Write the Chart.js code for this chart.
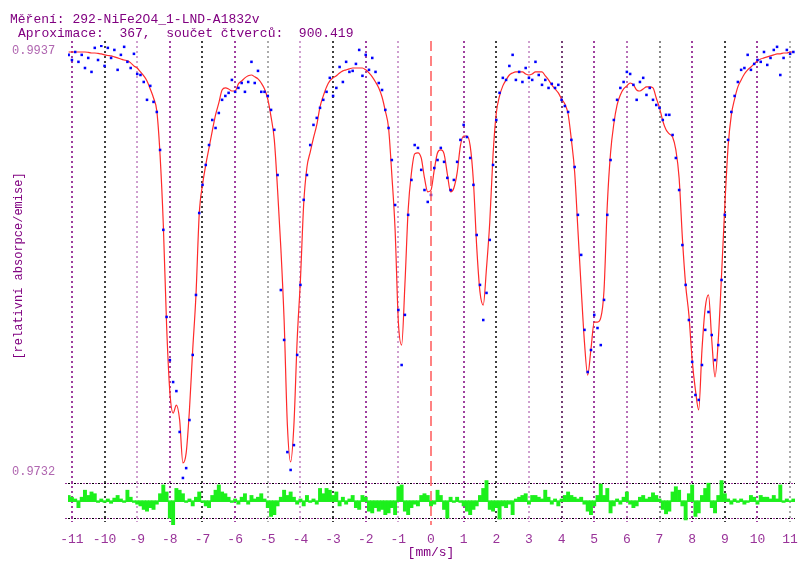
<!DOCTYPE html>
<html>
<head>
<meta charset="utf-8">
<script src="https://cdn.jsdelivr.net/npm/chart.js@4.4.1/dist/chart.umd.min.js"></script>
<style>
  html, body { margin: 0; padding: 0; background: #fff; }
  #wrap { width: 799px; height: 561px; }
</style>
</head>
<body>
<div id="wrap"><canvas id="spectrum" width="799" height="561"></canvas></div>
<script>
// channel velocity calibration (mm/s)
const V_START = -11.1;
const V_STEP = 0.1;

const TICKS = [-11, -10, -9, -8, -7, -6, -5, -4, -3, -2, -1, 0, 1, 2, 3, 4, 5, 6, 7, 8, 9, 10, 11];
const Y_LABELS = [0.9937, 0.9732];

const TITLE_1 = 'Měření: 292-NiFe2O4_1-LND-A1832v';
const TITLE_2 = 'Aproximace:  367,  součet čtverců:  900.419';

// fitted curve, one value per channel
const FIT = [
  0.99355,0.99355,0.99355,0.99355,0.99355,0.99355,0.99353,0.99350,0.99350,0.99348,
  0.99346,0.99341,0.99338,0.99336,0.99331,0.99326,0.99321,0.99316,0.99312,0.99302,
  0.99287,0.99277,0.99258,0.99239,0.99214,0.99175,0.99131,0.99068,0.98854,0.98513,
  0.98026,0.97700,0.97597,0.97636,0.97563,0.97354,0.97403,0.97612,0.97904,0.98172,
  0.98566,0.98708,0.98805,0.98888,0.98971,0.99049,0.99107,0.99170,0.99180,0.99175,
  0.99165,0.99165,0.99200,0.99214,0.99229,0.99239,0.99243,0.99234,0.99224,0.99204,
  0.99175,0.99126,0.99039,0.98927,0.98683,0.98401,0.98050,0.97539,0.97359,0.97539,
  0.97953,0.98245,0.98615,0.98795,0.98868,0.98937,0.99000,0.99088,0.99141,0.99185,
  0.99214,0.99229,0.99239,0.99253,0.99263,0.99268,0.99273,0.99277,0.99277,0.99277,
  0.99277,0.99268,0.99253,0.99234,0.99209,0.99180,0.99136,0.99068,0.98985,0.98756,
  0.98489,0.98040,0.97928,0.98221,0.98586,0.98766,0.98859,0.98864,0.98839,0.98742,
  0.98674,0.98683,0.98781,0.98864,0.98878,0.98859,0.98761,0.98674,0.98693,0.98766,
  0.98898,0.98946,0.98946,0.98898,0.98722,0.98406,0.98187,0.98123,0.98303,0.98527,
  0.98854,0.99058,0.99141,0.99190,0.99219,0.99243,0.99253,0.99258,0.99258,0.99258,
  0.99248,0.99243,0.99248,0.99258,0.99258,0.99258,0.99239,0.99219,0.99195,0.99175,
  0.99156,0.99126,0.99102,0.99053,0.98927,0.98771,0.98489,0.98206,0.97943,0.97782,
  0.97909,0.98040,0.98040,0.98060,0.98196,0.98610,0.98864,0.99005,0.99097,0.99146,
  0.99175,0.99190,0.99204,0.99195,0.99170,0.99165,0.99175,0.99185,0.99185,0.99180,
  0.99131,0.99083,0.99019,0.98976,0.98956,0.98941,0.98878,0.98742,0.98450,0.98221,
  0.98075,0.97855,0.97709,0.97612,0.97904,0.98109,0.98172,0.97953,0.97773,0.97953,
  0.98269,0.98605,0.98893,0.99049,0.99126,0.99185,0.99219,0.99248,0.99268,0.99282,
  0.99297,0.99312,0.99321,0.99326,0.99331,0.99336,0.99341,0.99346,0.99346,0.99350,
  0.99350,0.99355,0.99355
];

// measured spectrum
const MEASURED = [
  0.99341,0.99316,0.99355,0.99307,0.99341,0.99277,0.99326,0.99258,0.99375,0.99316,
  0.99385,0.99287,0.99375,0.99326,0.99365,0.99268,0.99341,0.99380,0.99307,0.99277,
  0.99346,0.99248,0.99243,0.99209,0.99122,0.99190,0.99112,0.99063,0.98878,0.98489,
  0.98065,0.97855,0.97748,0.97704,0.97505,0.97281,0.97329,0.97563,0.97880,0.98172,
  0.98571,0.98708,0.98805,0.98902,0.99024,0.98985,0.99058,0.99122,0.99141,0.99156,
  0.99219,0.99161,0.99180,0.99204,0.99161,0.99209,0.99307,0.99204,0.99263,0.99161,
  0.99161,0.99141,0.99073,0.98976,0.98756,0.98196,0.97953,0.97407,0.97320,0.97441,
  0.97880,0.98221,0.98635,0.98756,0.98902,0.99000,0.99034,0.99083,0.99122,0.99161,
  0.99229,0.99141,0.99180,0.99282,0.99209,0.99307,0.99258,0.99263,0.99297,0.99365,
  0.99239,0.99341,0.99268,0.99326,0.99258,0.99204,0.99170,0.99073,0.98985,0.98829,
  0.98610,0.98099,0.97831,0.98075,0.98562,0.98732,0.98902,0.98888,0.98781,0.98683,
  0.98625,0.98659,0.98790,0.98829,0.98888,0.98820,0.98742,0.98683,0.98732,0.98820,
  0.98927,0.99000,0.98941,0.98839,0.98708,0.98464,0.98221,0.98050,0.98182,0.98440,
  0.98805,0.99024,0.99156,0.99229,0.99219,0.99287,0.99341,0.99219,0.99258,0.99209,
  0.99277,0.99229,0.99219,0.99307,0.99243,0.99195,0.99219,0.99180,0.99200,0.99180,
  0.99195,0.99122,0.99092,0.99063,0.98927,0.98795,0.98562,0.98367,0.98002,0.97797,
  0.97904,0.98075,0.98011,0.97928,0.98148,0.98562,0.98829,0.99024,0.99122,0.99180,
  0.99209,0.99258,0.99248,0.99195,0.99122,0.99209,0.99229,0.99146,0.99180,0.99122,
  0.99097,0.99083,0.99024,0.99049,0.99049,0.98951,0.98839,0.98683,0.98415,0.98221,
  0.98050,0.97846,0.97685,0.97661,0.97831,0.98002,0.98089,0.97977,0.97855,0.97928,
  0.98245,0.98562,0.98927,0.99063,0.99141,0.99209,0.99268,0.99277,0.99341,0.99268,
  0.99297,0.99316,0.99307,0.99355,0.99292,0.99326,0.99365,0.99380,0.99243,0.99326,
  0.99365,0.99346,0.99355
];

// residuals, in units of the dotted guide lines
const RESIDUAL = [
  0.3,0.2,0.1,-0.4,0.2,0.6,0.3,0.5,0.4,-0.1,
  0.1,-0.1,0.1,-0.15,0.15,0.3,0.1,-0.1,0.6,0.2,
  -0.1,-0.2,-0.3,-0.5,-0.6,-0.4,-0.5,-0.2,0.4,0.9,
  0.5,-1.0,-1.5,0.7,0.6,0.4,-0.1,0.1,-0.3,0.2,
  0.5,-0.1,-0.3,-0.4,0.3,0.6,0.9,0.5,0.4,0.2,
  -0.1,0.1,-0.2,0.2,0.4,-0.2,0.3,0.1,0.2,0.4,
  0.1,-0.4,-0.9,-0.8,-0.3,0.2,0.6,0.3,0.5,0.2,
  -0.2,0.1,-0.3,0.3,-0.1,0.1,-0.2,0.7,0.4,0.7,
  0.6,0.3,0.5,-0.3,0.2,-0.2,0.1,0.3,-0.4,-0.5,
  0.3,0.2,-0.6,-0.7,-0.4,-0.6,-0.5,-0.8,-0.7,-0.4,
  -0.8,0.8,0.9,-0.6,-0.8,-0.4,-0.2,-0.3,0.3,0.4,
  0.3,-0.3,-0.2,0.6,0.3,-0.5,-1.0,0.2,-0.1,0.2,
  -0.1,-0.3,-0.6,-0.8,-0.5,-0.3,0.3,0.7,1.15,-0.5,
  -0.6,-0.4,-1.05,-0.3,-0.4,-0.2,-0.8,0.1,0.2,0.3,
  0.4,-0.2,0.3,0.3,0.2,0.1,0.6,0.2,-0.2,0.1,
  -0.3,0.1,0.3,0.5,0.3,0.2,0.1,0.2,-0.2,-0.6,
  -0.8,-0.3,0.3,0.95,0.3,0.7,-0.7,-0.3,0.1,-0.2,
  0.2,0.5,-0.2,-0.4,-0.3,0.2,0.3,0.1,0.2,0.45,
  0.3,0.1,-0.5,-0.75,-0.6,0.5,0.8,0.6,-0.3,-1.1,
  0.4,0.9,-0.9,-0.7,0.3,0.7,1.0,-0.4,-0.7,0.3,
  1.15,0.4,0.1,-0.2,0.1,-0.1,0.1,-0.2,-0.1,0.3,
  0.2,-0.2,0.3,0.2,0.2,0.1,0.3,0.1,0.9,-0.1,
  0.1,0.0,0.1
];

const GRID_COLORS = [
  '#800080', '#000000', '#c080c0', '#800080', '#000000', '#800080', '#909090', '#c080c0',
  '#000000', '#800080', '#c080c0', null, '#800080', '#000000', '#c080c0', '#4a004a',
  '#800080', '#a040a0', '#606060', '#800080', '#000000', '#800080', '#909090'
];

const MONO = '"Liberation Mono", "DejaVu Sans Mono", monospace';

function velocity(i) {
  return +(V_START + i * V_STEP).toFixed(2);
}

const frame = {
  id: 'frame',
  beforeDatasetsDraw(chart) {
    const { ctx, chartArea: a, scales } = chart;
    const x = scales.x, res = scales.res;
    ctx.save();
    ctx.lineWidth = 1.5;
    ctx.setLineDash([2, 3]);
    TICKS.forEach((t, i) => {
      if (!GRID_COLORS[i]) return;
      const px = Math.round(x.getPixelForValue(t));
      ctx.strokeStyle = GRID_COLORS[i];
      ctx.beginPath();
      ctx.moveTo(px, a.top - 4);
      ctx.lineTo(px, a.bottom - 3);
      ctx.stroke();
    });

    // residual guide lines at +1 / -1
    ctx.lineWidth = 1;
    [1, -1].forEach(v => {
      const py = Math.round(res.getPixelForValue(v)) + 0.5;
      ctx.strokeStyle = '#993399';
      ctx.setLineDash([2, 4]);
      ctx.lineDashOffset = 0;
      ctx.beginPath(); ctx.moveTo(a.left - 3, py); ctx.lineTo(a.right, py); ctx.stroke();
      ctx.strokeStyle = '#000000';
      ctx.lineDashOffset = 3;
      ctx.beginPath(); ctx.moveTo(a.left - 3, py); ctx.lineTo(a.right, py); ctx.stroke();
    });
    ctx.restore();
  },
  afterDatasetsDraw(chart) {
    const { ctx, chartArea: a, scales } = chart;
    const x = scales.x, res = scales.res;
    ctx.save();
    // residual zero line
    const py0 = Math.round(res.getPixelForValue(0)) + 0.5;
    ctx.strokeStyle = '#22ee22';
    ctx.lineWidth = 1;
    ctx.beginPath(); ctx.moveTo(a.left, py0); ctx.lineTo(a.right, py0); ctx.stroke();

    // zero velocity marker
    const px0 = Math.round(x.getPixelForValue(0));
    ctx.strokeStyle = '#ff5a5a';
    ctx.lineWidth = 1.5;
    ctx.setLineDash([10, 5]);
    ctx.beginPath(); ctx.moveTo(px0, a.top - 4); ctx.lineTo(px0, a.bottom); ctx.stroke();
    ctx.restore();
  },
  afterDraw(chart) {
    const { ctx, scales } = chart;
    const x = scales.x, y = scales.y;
    ctx.save();
    ctx.textBaseline = 'alphabetic';
    ctx.textAlign = 'left';
    ctx.fillStyle = '#800080';
    ctx.font = '13px ' + MONO;
    ctx.fillText(TITLE_1, 10, 23);
    ctx.fillText(TITLE_2, 18, 37);

    // y-axis end labels
    ctx.font = '12px ' + MONO;
    ctx.fillStyle = '#b066b0';
    ctx.textBaseline = 'middle';
    Y_LABELS.forEach(v => ctx.fillText(v.toFixed(4), 12, y.getPixelForValue(v) + 2));

    // x tick labels
    ctx.font = '13px ' + MONO;
    ctx.fillStyle = '#993399';
    ctx.textAlign = 'center';
    ctx.textBaseline = 'alphabetic';
    TICKS.forEach(t => ctx.fillText(String(t), x.getPixelForValue(t), 543));
    ctx.fillStyle = '#800080';
    ctx.fillText('[mm/s]', x.getPixelForValue(0), 556);

    // y title
    ctx.font = '12px ' + MONO;
    ctx.translate(19, 266);
    ctx.rotate(-Math.PI / 2);
    ctx.textBaseline = 'middle';
    ctx.fillText('[relativní absorpce/emise]', 0, 0);
    ctx.restore();
  }
};

const ctx = document.getElementById('spectrum').getContext('2d');
new Chart(ctx, {
  type: 'line',
  data: {
    datasets: [
      {
        type: 'scatter',
        label: 'measured',
        data: MEASURED.map((v, i) => ({ x: velocity(i), y: v })),
        yAxisID: 'y',
        pointStyle: 'rect',
        pointRadius: 1.8,
        backgroundColor: '#0000ff',
        borderWidth: 0,
        order: 0
      },
      {
        type: 'line',
        label: 'fit',
        data: FIT.map((v, i) => ({ x: velocity(i), y: v })),
        yAxisID: 'y',
        borderColor: '#ff2a2a',
        borderWidth: 1.2,
        pointRadius: 0,
        cubicInterpolationMode: 'monotone',
        order: 1
      },
      {
        type: 'bar',
        label: 'residual',
        data: RESIDUAL.map((v, i) => ({ x: velocity(i), y: v })),
        yAxisID: 'res',
        backgroundColor: '#1cf01c',
        borderWidth: 0,
        barPercentage: 1,
        categoryPercentage: 1,
        order: 2
      }
    ]
  },
  options: {
    responsive: false,
    devicePixelRatio: 1,
    animation: false,
    layout: { padding: { left: 68, right: 2, top: 45, bottom: 36 } },
    scales: {
      x: { type: 'linear', min: -11.12, max: 11.15, offset: false, display: false },
      y: { type: 'linear', min: 0.97052, max: 0.99389, display: false },
      res: { type: 'linear', axis: 'y', min: -1.389, max: 26.04, display: false }
    },
    plugins: {
      legend: { display: false },
      tooltip: { enabled: false }
    }
  },
  plugins: [frame]
});
</script>
</body>
</html>
